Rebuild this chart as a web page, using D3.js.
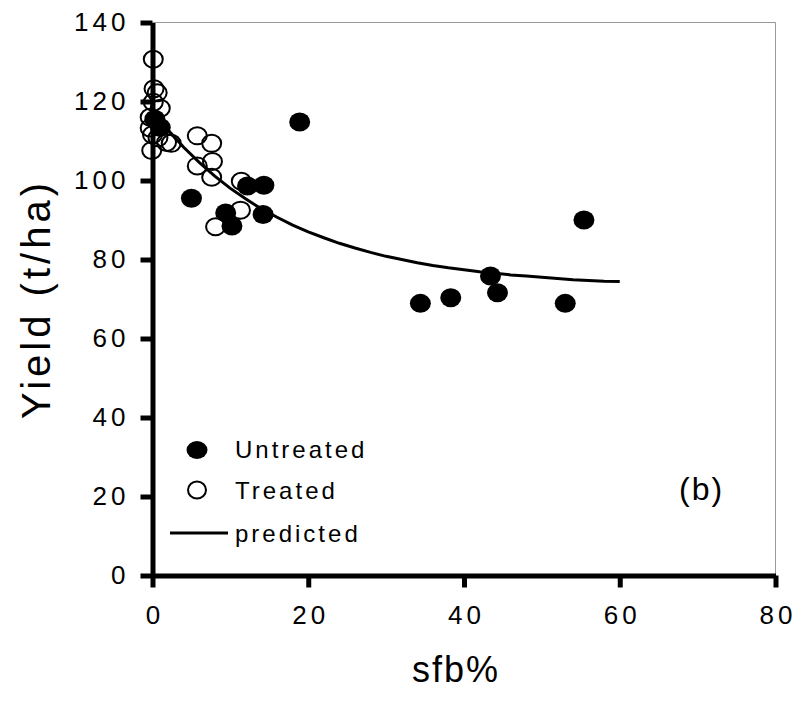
<!DOCTYPE html>
<html>
<head>
<meta charset="utf-8">
<script src="https://cdn.jsdelivr.net/npm/d3@7"></script>
<style>
  body { margin: 0; background: #fff; }
  svg text { font-family: "Liberation Sans", Arial, Helvetica, sans-serif; fill: #000; }
</style>
</head>
<body>
<div id="chart"></div>
<script>
// values
const untreatedX = [0.3, 1.0, 5.0, 9.4, 10.2, 12.2, 14.3, 14.2, 18.9, 34.4, 38.3, 43.4, 44.3, 53.0, 55.4];
const untreatedY = [115.5, 113.4, 95.5, 91.8, 88.5, 98.6, 98.8, 91.4, 114.8, 68.9, 70.3, 75.8, 71.6, 68.9, 90.0];

const treatedX = [0.1, 0.2, 0.6, 0.1, 1.0, -0.3, -0.3, 0.0, 0.7, 1.8, -0.1, 2.4, 5.75, 7.6, 5.75, 7.7, 7.6, 11.4, 11.3, 8.1];
const treatedY = [130.7, 123.2, 122.2, 119.8, 118.3, 116.0, 113.3, 111.6, 110.8, 109.6, 107.6, 109.4, 111.3, 109.4, 103.7, 104.8, 100.8, 99.8, 92.5, 88.3];

const predictedX = [0, 2, 4, 6, 8, 10, 12, 14, 16, 18, 20, 22, 24, 26, 28, 30, 32, 34, 36, 38, 40, 42, 44, 46, 48, 50, 52, 54, 56, 58, 60];
const predictedY = [117.7, 112.8, 108.4, 104.6, 101.1, 98.0, 95.3, 92.8, 90.7, 88.7, 87.0, 85.5, 84.1, 82.9, 81.8, 80.8, 80.0, 79.2, 78.5, 77.9, 77.4, 76.9, 76.5, 76.1, 75.8, 75.5, 75.2, 74.9, 74.7, 74.5, 74.4];

const xTicks = [0, 20, 40, 60, 80];
const yTicks = [0, 20, 40, 60, 80, 100, 120, 140];
const legendLabels = ['Untreated', 'Treated', 'predicted'];

const width = 795, height = 707;
const margin = {top: 22.5, right: 19.5, bottom: 131.5, left: 152.5};

const svg = d3.select('#chart').append('svg')
    .attr('width', width)
    .attr('height', height);

const x = d3.scaleLinear().domain([0, 80]).range([margin.left, width - margin.right]);
const y = d3.scaleLinear().domain([0, 140]).range([height - margin.bottom, margin.top]);

// thin plot-area border (top and right)
svg.append('path')
    .attr('d', `M${x(0)},${y(140)}H${x(80)}V${y(0)}`)
    .attr('fill', 'none')
    .attr('stroke', '#999')
    .attr('stroke-width', 1);

// axes
const yAxis = svg.append('g')
    .attr('transform', `translate(${x(0)},0)`)
    .call(d3.axisLeft(y).tickValues(yTicks).tickSize(12).tickSizeOuter(0).tickPadding(11));

const xAxis = svg.append('g')
    .attr('transform', `translate(0,${y(0)})`)
    .call(d3.axisBottom(x).tickValues(xTicks).tickSize(12).tickSizeOuter(0).tickPadding(18));

[yAxis, xAxis].forEach(g => {
  g.select('.domain').attr('stroke', '#000').attr('stroke-width', 5);
  g.selectAll('.tick line').attr('stroke', '#000').attr('stroke-width', 5);
  g.selectAll('.tick text')
      .style('font-size', '26px')
      .style('letter-spacing', '4px')
      .attr('fill', '#000');
});
xAxis.selectAll('.tick text').attr('dx', '2px');

// predicted line
const line = d3.line()
    .x(d => x(d[0]))
    .y(d => y(d[1]));

svg.append('path')
    .datum(d3.zip(predictedX, predictedY))
    .attr('d', line)
    .attr('fill', 'none')
    .attr('stroke', '#000')
    .attr('stroke-width', 3);

// treated (open)
svg.append('g').selectAll('ellipse')
  .data(d3.zip(treatedX, treatedY))
  .join('ellipse')
    .attr('cx', d => x(d[0]))
    .attr('cy', d => y(d[1]))
    .attr('rx', 9.5)
    .attr('ry', 8.5)
    .attr('fill', 'none')
    .attr('stroke', '#000')
    .attr('stroke-width', 2);

// untreated (filled)
svg.append('g').selectAll('ellipse')
  .data(d3.zip(untreatedX, untreatedY))
  .join('ellipse')
    .attr('cx', d => x(d[0]))
    .attr('cy', d => y(d[1]))
    .attr('rx', 10.5)
    .attr('ry', 9.5)
    .attr('fill', '#000');

// legend
const legend = svg.append('g');
legend.append('ellipse')
    .attr('cx', 197).attr('cy', 450)
    .attr('rx', 10.5).attr('ry', 9)
    .attr('fill', '#000');
legend.append('ellipse')
    .attr('cx', 197).attr('cy', 490)
    .attr('rx', 9).attr('ry', 8.5)
    .attr('fill', 'none').attr('stroke', '#000').attr('stroke-width', 2);
legend.append('line')
    .attr('x1', 170).attr('x2', 228)
    .attr('y1', 533).attr('y2', 533)
    .attr('stroke', '#000').attr('stroke-width', 3);
legend.selectAll('text')
  .data(legendLabels)
  .join('text')
    .attr('x', 235)
    .attr('y', (d, i) => [458, 499, 542][i])
    .style('font-size', '24px')
    .style('letter-spacing', '3px')
    .text(d => d);

// panel label
svg.append('text')
    .attr('x', 679)
    .attr('y', 500)
    .style('font-size', '32px')
    .style('letter-spacing', '2px')
    .text('(b)');

// axis titles
svg.append('text')
    .attr('transform', 'translate(50,299) rotate(-90)')
    .attr('text-anchor', 'middle')
    .style('font-size', '40px')
    .style('letter-spacing', '4px')
    .text('Yield (t/ha)');

svg.append('text')
    .attr('x', 456)
    .attr('y', 682)
    .attr('text-anchor', 'middle')
    .style('font-size', '36px')
    .style('letter-spacing', '2px')
    .text('sfb%');
</script>
</body>
</html>
